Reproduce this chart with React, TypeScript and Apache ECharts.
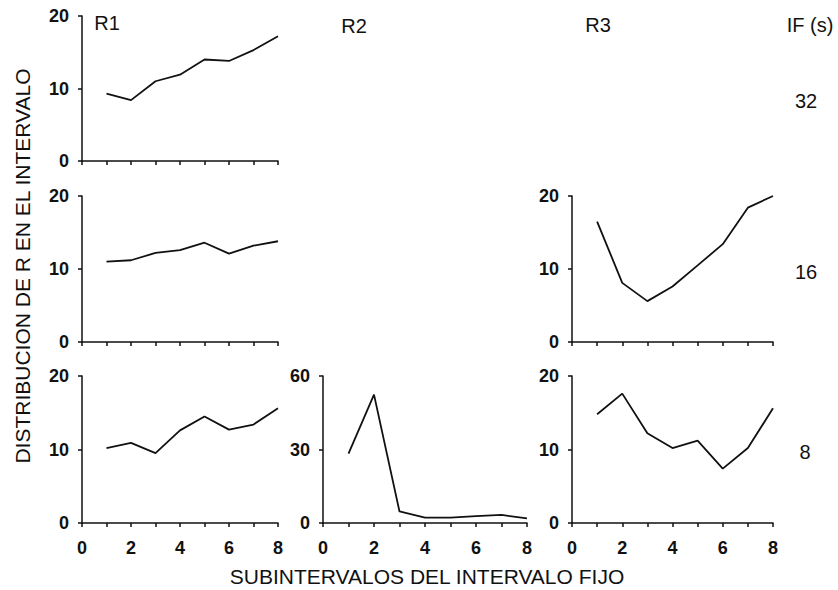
import React, { useEffect, useRef } from "react";
import * as echarts from "echarts";

const subintervals = [1, 2, 3, 4, 5, 6, 7, 8];
const xTickLabels = [0, 2, 4, 6, 8];
const r1If32 = [9.3, 8.4, 11.0, 11.9, 14.0, 13.8, 15.3, 17.2];
const r1If16 = [11.0, 11.2, 12.2, 12.6, 13.6, 12.1, 13.2, 13.8];
const r1If8 = [10.2, 10.9, 9.5, 12.6, 14.5, 12.7, 13.4, 15.6];
const r2If8 = [28.3, 52.4, 4.7, 2.2, 2.2, 2.8, 3.3, 1.9];
const r3If16 = [16.5, 8.1, 5.6, 7.6, 10.5, 13.4, 18.4, 20.0];
const r3If8 = [14.8, 17.6, 12.2, 10.2, 11.2, 7.4, 10.2, 15.6];
const columnLabels = ["R1", "R2", "R3"];
const rowLabels = ["32", "16", "8"];

const FONT = "'Liberation Sans', Arial, Helvetica, sans-serif";

export default function App() {
  const ref = useRef<HTMLDivElement>(null);
  useEffect(() => {
    document.body.style.margin = "0";
    const chart = echarts.init(ref.current!, null, { renderer: "svg" });

    const cols = [
      { left: 82, width: 196 },
      { left: 323, width: 204 },
      { left: 572, width: 201 },
    ];
    const rows = [
      { top: 16, height: 145 },
      { top: 196, height: 146 },
      { top: 376, height: 147 },
    ];
    const panels = [
      { row: 0, col: 0, data: r1If32, max: 20 },
      { row: 1, col: 0, data: r1If16, max: 20 },
      { row: 2, col: 0, data: r1If8, max: 20 },
      { row: 2, col: 1, data: r2If8, max: 60 },
      { row: 1, col: 2, data: r3If16, max: 20 },
      { row: 2, col: 2, data: r3If8, max: 20 },
    ];

    const grid: any[] = [];
    const xAxis: any[] = [];
    const yAxis: any[] = [];
    const series: any[] = [];
    const axisLine = { show: true, lineStyle: { color: "#111", width: 1.5 } };

    panels.forEach((p, i) => {
      grid.push({
        left: cols[p.col].left,
        top: rows[p.row].top,
        width: cols[p.col].width,
        height: rows[p.row].height,
      });
      xAxis.push({
        type: "value",
        gridIndex: i,
        min: 0,
        max: 8,
        interval: 1,
        axisLine,
        axisTick: { show: true, length: 4, lineStyle: { color: "#111", width: 1.5 } },
        splitLine: { show: false },
        axisLabel: {
          show: p.row === 2,
          margin: 16,
          color: "#111",
          fontSize: 18,
          fontWeight: "bold",
          fontFamily: FONT,
          formatter: (v: number) => (xTickLabels.includes(v) ? String(v) : ""),
        },
      });
      yAxis.push({
        type: "value",
        gridIndex: i,
        min: 0,
        max: p.max,
        interval: p.max / 2,
        axisLine,
        axisTick: { show: true, length: 4, lineStyle: { color: "#111", width: 1.5 } },
        splitLine: { show: false },
        axisLabel: {
          margin: 13,
          color: "#111",
          fontSize: 18,
          fontWeight: "bold",
          fontFamily: FONT,
        },
      });
      series.push({
        type: "line",
        xAxisIndex: i,
        yAxisIndex: i,
        showSymbol: false,
        symbol: "none",
        lineStyle: { color: "#111", width: 1.8 },
        data: subintervals.map((x, k) => [x, p.data[k]]),
      });
    });

    const txt = (text: string, x: number, y: number, size: number, extra: any = {}) => ({
      type: "text",
      x,
      y,
      ...extra,
      style: {
        text,
        fill: "#111",
        fontSize: size,
        fontFamily: FONT,
        align: "center",
        verticalAlign: "middle",
      },
    });

    const graphic = [
      txt(columnLabels[0], 107, 23, 20),
      txt(columnLabels[1], 354, 26, 20),
      txt(columnLabels[2], 598, 25, 20),
      txt("IF (s)", 810, 25, 20),
      txt(rowLabels[0], 806, 101, 20),
      txt(rowLabels[1], 806, 272, 20),
      txt(rowLabels[2], 805, 452, 20),
      txt("SUBINTERVALOS DEL INTERVALO FIJO", 427, 576, 21),
      txt("DISTRIBUCION DE R EN EL INTERVALO", 22, 266, 21, { rotation: Math.PI / 2 }),
    ];

    chart.setOption({
      animation: false,
      backgroundColor: "#fff",
      grid,
      xAxis,
      yAxis,
      series,
      graphic,
    });
    return () => chart.dispose();
  }, []);
  return <div ref={ref} style={{ width: 838, height: 590 }} />;
}
